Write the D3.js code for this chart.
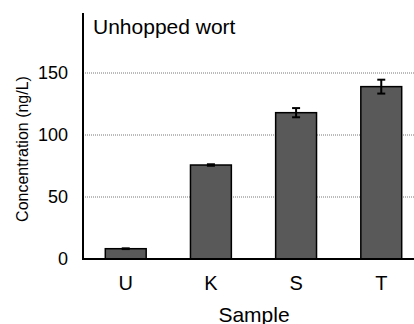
<!DOCTYPE html>
<html>
<head>
<meta charset="utf-8">
<script src="https://cdn.jsdelivr.net/npm/d3@7"></script>
<style>
  body { margin: 0; background: #fff; }
  svg { display: block; font-family: "Liberation Sans", Arial, sans-serif; }
</style>
</head>
<body>
<svg id="chart" width="414" height="324"></svg>
<script>
// data
const samples = ["U", "K", "S", "T"];
const concentration = [8.3, 75.8, 118, 139];
const errors = [0.3, 0.6, 3.7, 5.6];
const yTicks = [0, 50, 100, 150];

const svg = d3.select("#chart");
const width = 414, height = 324;
const plotLeft = 83, plotBottom = 259, plotTop = 11;

const x = d3.scaleBand()
  .domain(samples)
  .range([plotLeft + 1, 423])
  .paddingInner(0.52)
  .paddingOuter(0.25);

const y = d3.scaleLinear()
  .domain([0, 200])
  .range([plotBottom, plotTop]);

// dotted gridlines
svg.append("g")
  .selectAll("line")
  .data(yTicks.filter(d => d > 0))
  .enter().append("line")
  .attr("x1", plotLeft)
  .attr("x2", width)
  .attr("y1", d => y(d))
  .attr("y2", d => y(d))
  .attr("stroke", "#777")
  .attr("stroke-width", 1)
  .attr("stroke-dasharray", "1,1");

// y axis labels (no tick marks)
const yAxis = svg.append("g")
  .attr("transform", "translate(" + plotLeft + ",0)")
  .call(d3.axisLeft(y).tickValues(yTicks).tickSize(0).tickPadding(15));
yAxis.select(".domain").remove();
yAxis.selectAll("text")
  .attr("font-size", 18)
  .attr("fill", "#000")
  .attr("font-family", "Liberation Sans, Arial, sans-serif");

// bars
svg.append("g")
  .selectAll("rect")
  .data(samples)
  .enter().append("rect")
  .attr("x", d => x(d))
  .attr("width", x.bandwidth())
  .attr("y", (d, i) => y(concentration[i]))
  .attr("height", (d, i) => y(0) - y(concentration[i]))
  .attr("fill", "#595959")
  .attr("stroke", "#000")
  .attr("stroke-width", 1.5);

// error bars
const eb = svg.append("g")
  .attr("stroke", "#000")
  .attr("stroke-width", 2);
samples.forEach((s, i) => {
  const cx = x(s) + x.bandwidth() / 2;
  const hi = y(concentration[i] + errors[i]);
  const lo = y(concentration[i] - errors[i]);
  eb.append("line").attr("x1", cx).attr("x2", cx).attr("y1", hi).attr("y2", lo);
  eb.append("line").attr("x1", cx - 4).attr("x2", cx + 4).attr("y1", hi).attr("y2", hi);
  eb.append("line").attr("x1", cx - 4).attr("x2", cx + 4).attr("y1", lo).attr("y2", lo);
});

// axis lines
svg.append("line")
  .attr("x1", plotLeft).attr("x2", plotLeft)
  .attr("y1", plotTop + 2).attr("y2", plotBottom + 1)
  .attr("stroke", "#000").attr("stroke-width", 2);
svg.append("line")
  .attr("x1", plotLeft - 1).attr("x2", width)
  .attr("y1", plotBottom).attr("y2", plotBottom)
  .attr("stroke", "#000").attr("stroke-width", 2);

// x category labels
const xAxis = svg.append("g")
  .attr("transform", "translate(0," + plotBottom + ")")
  .call(d3.axisBottom(x).tickSize(0).tickPadding(17));
xAxis.select(".domain").remove();
xAxis.selectAll("text")
  .attr("font-size", 20)
  .attr("fill", "#000")
  .attr("font-family", "Liberation Sans, Arial, sans-serif");

// titles
svg.append("text")
  .attr("x", 93)
  .attr("y", 34)
  .attr("font-size", 21)
  .text("Unhopped wort");

svg.append("text")
  .attr("x", 254)
  .attr("y", 322)
  .attr("text-anchor", "middle")
  .attr("font-size", 21)
  .text("Sample");

svg.append("text")
  .attr("transform", "translate(28,149) rotate(-90)")
  .attr("text-anchor", "middle")
  .attr("font-size", 16)
  .text("Concentration (ng/L)");
</script>
</body>
</html>
